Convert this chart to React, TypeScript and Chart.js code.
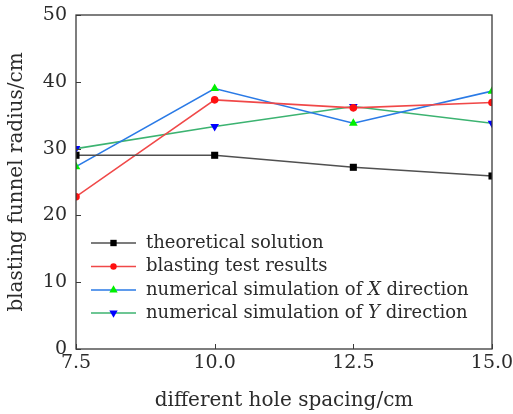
import React, { useEffect, useRef } from 'react';
import { Chart, registerables } from 'chart.js';

Chart.register(...registerables);

const holeSpacing = [7.5, 10.0, 12.5, 15.0];
const theoretical = [29.0, 29.0, 27.2, 25.9];
const blastingTest = [22.8, 37.3, 36.1, 36.9];
const simX = [27.3, 39.0, 33.8, 38.6];
const simY = [30.0, 33.3, 36.3, 33.8];

const xTicks = [7.5, 10.0, 12.5, 15.0];
const yTicks = [0, 10, 20, 30, 40, 50];

const seriesNames = [
  'theoretical solution',
  'blasting test results',
  'numerical simulation of X direction',
  'numerical simulation of Y direction',
];
const italicWords = ['', '', 'X', 'Y'];

const xTitle = 'different hole spacing/cm';
const yTitle = 'blasting funnel radius/cm';

const FONT = "'DejaVu Serif', serif";
const TEXT = '#2b2b2b';
const AXIS = '#3a3a3a';

type Style = { line: string; marker: string; shape: string; radius: number; legendRadius: number };
const styles: Style[] = [
  { line: '#505050', marker: '#000000', shape: 'rect', radius: 5, legendRadius: 4.5 },
  { line: '#f04848', marker: '#ff1010', shape: 'circle', radius: 3.8, legendRadius: 3.2 },
  { line: '#2a7ae6', marker: '#00f000', shape: 'triangle', radius: 5, legendRadius: 4.8 },
  { line: '#3cb371', marker: '#0000ff', shape: 'invtriangle', radius: 5, legendRadius: 4.8 },
];

function drawMarker(ctx: CanvasRenderingContext2D, shape: string, x: number, y: number, r: number, color: string) {
  ctx.save();
  ctx.fillStyle = color;
  ctx.beginPath();
  if (shape === 'rect') {
    const s = r * Math.SQRT1_2;
    ctx.rect(x - s, y - s, 2 * s, 2 * s);
  } else if (shape === 'circle') {
    ctx.arc(x, y, r, 0, Math.PI * 2);
  } else {
    const dir = shape === 'triangle' ? 1 : -1;
    for (let i = 0; i < 3; i++) {
      const a = -Math.PI / 2 + (i * 2 * Math.PI) / 3;
      const px = x + Math.cos(a) * r;
      const py = y + dir * Math.sin(a) * r;
      if (i === 0) ctx.moveTo(px, py);
      else ctx.lineTo(px, py);
    }
    ctx.closePath();
  }
  ctx.fill();
  ctx.restore();
}

const framePlugin = {
  id: 'frameAndLegend',
  afterDraw(chart: any) {
    const { ctx, chartArea, scales } = chart;
    const { left, right, top, bottom } = chartArea;
    ctx.save();
    ctx.strokeStyle = AXIS;
    ctx.lineWidth = 1.3;
    ctx.strokeRect(left, top, right - left, bottom - top);
    // inward ticks
    ctx.lineWidth = 1;
    ctx.beginPath();
    for (const v of yTicks) {
      const y = Math.round(scales.y.getPixelForValue(v)) + 0.5;
      ctx.moveTo(left, y);
      ctx.lineTo(left + 5, y);
    }
    for (const v of xTicks) {
      const x = Math.round(scales.x.getPixelForValue(v)) + 0.5;
      ctx.moveTo(x, bottom);
      ctx.lineTo(x, bottom - 5);
    }
    ctx.stroke();

    // legend
    const rowY = [243, 266.5, 290, 313];
    const lineX0 = left + 15;
    const lineX1 = left + 60;
    const textX = left + 70;
    ctx.textBaseline = 'middle';
    seriesNames.forEach((name, i) => {
      const st = styles[i];
      const y = rowY[i];
      ctx.strokeStyle = st.line;
      ctx.lineWidth = 1.6;
      ctx.beginPath();
      ctx.moveTo(lineX0, y);
      ctx.lineTo(lineX1, y);
      ctx.stroke();
      drawMarker(ctx, st.shape, (lineX0 + lineX1) / 2, y, st.legendRadius, st.marker);
      ctx.fillStyle = TEXT;
      const normal = `18px ${FONT}`;
      const italic = `italic 18px ${FONT}`;
      const w = italicWords[i];
      if (w) {
        const idx = name.indexOf(' ' + w + ' ');
        const pre = name.slice(0, idx + 1);
        const post = name.slice(idx + 1 + w.length);
        let x = textX;
        ctx.font = normal;
        ctx.fillText(pre, x, y);
        x += ctx.measureText(pre).width;
        ctx.font = italic;
        ctx.fillText(w, x, y);
        x += ctx.measureText(w).width;
        ctx.font = normal;
        ctx.fillText(post, x, y);
      } else {
        ctx.font = normal;
        ctx.fillText(name, textX, y);
      }
    });
    ctx.restore();
  },
};

export default function App() {
  const canvasRef = useRef<HTMLCanvasElement | null>(null);

  useEffect(() => {
    document.body.style.margin = '0';
    const canvas = canvasRef.current;
    if (!canvas) return;
    const series = [theoretical, blastingTest, simX, simY];
    const chart = new Chart(canvas, {
      type: 'line',
      data: {
        datasets: series.map((vals, i) => ({
          label: seriesNames[i],
          data: vals.map((v, j) => ({ x: holeSpacing[j], y: v })),
          borderColor: styles[i].line,
          backgroundColor: styles[i].marker,
          pointBackgroundColor: styles[i].marker,
          pointBorderColor: styles[i].marker,
          pointBorderWidth: 0,
          pointStyle: styles[i].shape === 'invtriangle' ? 'triangle' : (styles[i].shape as any),
          pointRotation: styles[i].shape === 'invtriangle' ? 180 : 0,
          pointRadius: styles[i].radius,
          borderWidth: 1.6,
          tension: 0,
          clip: 0,
        })),
      },
      options: {
        animation: false,
        responsive: false,
        maintainAspectRatio: false,
        layout: { padding: { top: 15, right: 21, left: 0, bottom: 0 } },
        plugins: { legend: { display: false }, tooltip: { enabled: false } },
        scales: {
          x: {
            type: 'linear',
            min: 7.5,
            max: 15,
            grid: { display: false, drawTicks: false },
            border: { display: false },
            afterBuildTicks: (scale: any) => {
              scale.ticks = xTicks.map((v) => ({ value: v }));
            },
            afterFit: (scale: any) => {
              scale.height = 65;
              scale.paddingLeft = 0;
              scale.paddingRight = 0;
            },
            ticks: {
              autoSkip: false,
              maxRotation: 0,
              padding: 3,
              color: TEXT,
              font: { family: FONT, size: 19 },
              callback: (v: any) => Number(v).toFixed(1),
            },
            title: {
              display: true,
              text: xTitle,
              color: TEXT,
              font: { family: FONT, size: 20 },
              padding: { top: 0, bottom: 1 },
            },
          },
          y: {
            type: 'linear',
            min: 0,
            max: 50,
            grid: { display: false, drawTicks: false },
            border: { display: false },
            afterBuildTicks: (scale: any) => {
              scale.ticks = yTicks.map((v) => ({ value: v }));
            },
            afterFit: (scale: any) => {
              scale.width = 76;
              scale.paddingTop = 0;
              scale.paddingBottom = 0;
            },
            ticks: {
              autoSkip: false,
              padding: 9,
              color: TEXT,
              font: { family: FONT, size: 19 },
              callback: (v: any) => String(v),
            },
            title: {
              display: true,
              text: yTitle,
              color: TEXT,
              font: { family: FONT, size: 20 },
              padding: { top: 5, bottom: 0 },
            },
          },
        },
      },
      plugins: [framePlugin],
    });
    return () => chart.destroy();
  }, []);

  return (
    <div style={{ width: 513, height: 414 }}>
      <canvas ref={canvasRef} width={513} height={414} style={{ display: 'block' }} />
    </div>
  );
}
